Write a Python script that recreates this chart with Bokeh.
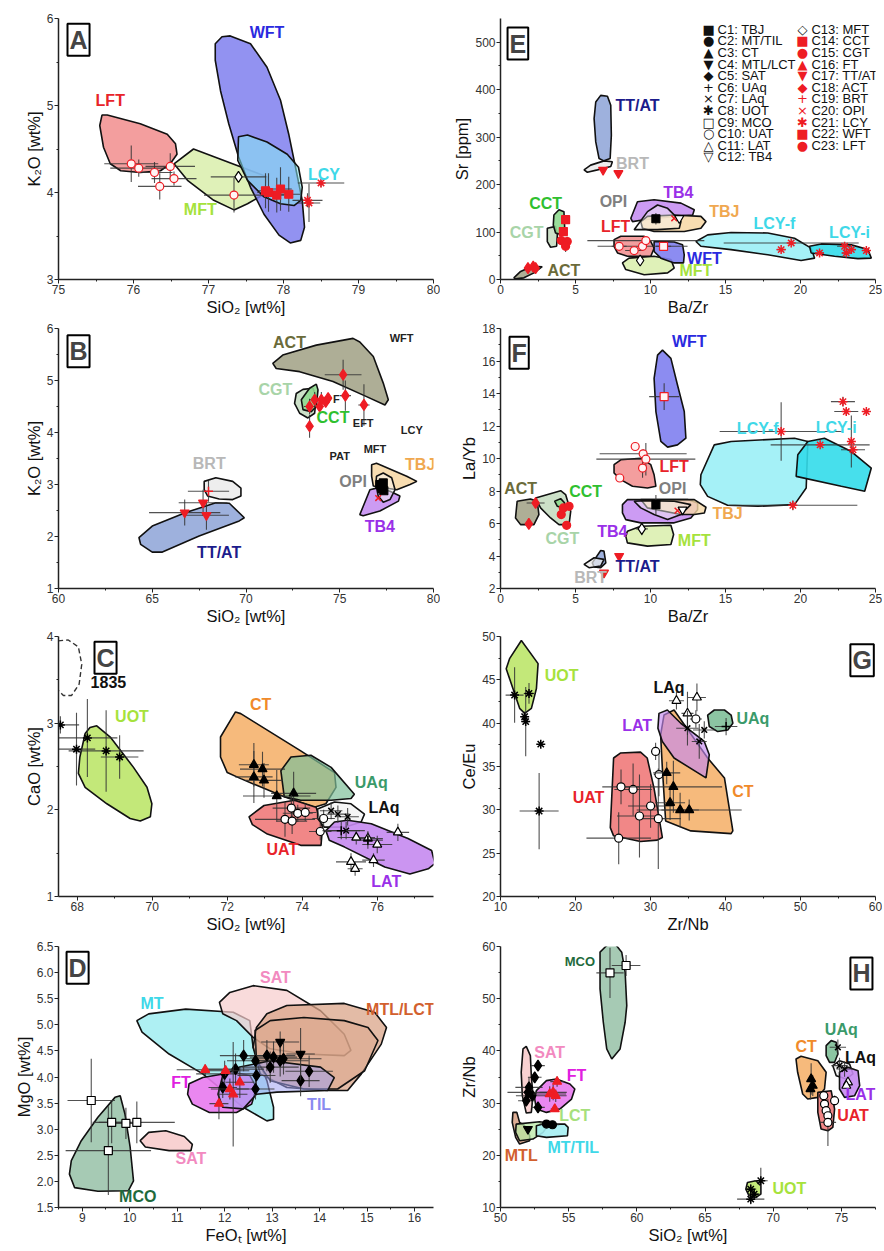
from bokeh.plotting import figure
from bokeh.models import FixedTicker, Label, PrintfTickFormatter
from bokeh.layouts import column, row
from bokeh.embed import file_html
from bokeh.resources import INLINE
from bokeh.core.properties import value

FONT = "Liberation Sans"
RED = "#ee1c24"

# ======================= DATA =======================
# ---- Panel A : K2O vs SiO2 ----
A_XTICKS = [75, 76, 77, 78, 79, 80]
A_XMINOR = [75.5, 76.5, 77.5, 78.5, 79.5]
A_YTICKS = [3, 4, 5, 6]
A_YMINOR = [3.5, 4.5, 5.5]
A_MFT_X = [76.54, 76.80, 77.78, 77.74, 77.52, 77.34, 77.07, 76.72]
A_MFT_Y = [4.33, 4.50, 4.18, 3.98, 3.87, 3.80, 3.91, 4.14]
A_LFT_X = [75.58, 75.65, 76.09, 76.45, 76.56, 76.58, 76.49, 76.36, 76.09, 75.83, 75.69, 75.60, 75.55]
A_LFT_Y = [4.89, 4.89, 4.79, 4.67, 4.56, 4.44, 4.33, 4.25, 4.23, 4.25, 4.33, 4.52, 4.77]
A_WFT_X = [77.29, 77.56, 77.78, 77.96, 78.07, 78.16, 78.25, 78.28, 78.23, 78.09, 77.94, 77.74, 77.56, 77.40, 77.27, 77.16, 77.09, 77.09, 77.18]
A_WFT_Y = [5.80, 5.71, 5.44, 5.06, 4.67, 4.29, 3.91, 3.60, 3.45, 3.42, 3.51, 3.75, 4.06, 4.41, 4.79, 5.17, 5.52, 5.71, 5.79]
A_LCY_X = [77.40, 77.52, 77.78, 78.05, 78.20, 78.25, 78.23, 78.14, 77.96, 77.74, 77.52, 77.39]
A_LCY_Y = [4.64, 4.66, 4.58, 4.44, 4.29, 4.06, 3.91, 3.85, 3.87, 3.95, 4.14, 4.37]
A_P_LFT_X = [75.97, 76.07, 76.28, 76.35, 76.49, 76.54, 77.34]
A_P_LFT_Y = [4.33, 4.28, 4.23, 4.07, 4.30, 4.16, 3.97]
A_P_LFT_EX = [0.36, 0.38, 0.24, 0.29, 0.33, 0.3, 0.4]
A_P_LFT_EY = [0.21, 0.1, 0.12, 0.15, 0.15, 0.08, 0.2]
A_P_MFT_X = [77.40]
A_P_MFT_Y = [4.18]
A_P_MFT_EX = [0.37]
A_P_MFT_EY = [0.05]
A_P_WFT_X = [77.76, 77.80, 77.96, 77.91, 78.07]
A_P_WFT_Y = [4.02, 4.00, 4.04, 3.97, 3.98]
A_P_WFT_EX = [0.1, 0.15, 0.15, 0.1, 0.15]
A_P_WFT_EY = [0.2, 0.22, 0.25, 0.2, 0.2]
A_P_LCY_X = [78.32, 78.34, 78.50]
A_P_LCY_Y = [3.91, 3.88, 4.11]
A_P_LCY_EX = [0.2, 0.15, 0.31]
A_P_LCY_EY = [0.08, 0.22, 0.05]
A_LAB = ["WFT", "LFT", "MFT", "LCY"]
A_LAB_X = [77.78, 75.69, 76.89, 78.54]
A_LAB_Y = [5.84, 5.06, 3.81, 4.21]

# ---- Panel E : Sr vs Ba/Zr ----
E_XTICKS = [0, 5, 10, 15, 20, 25]
E_XMINOR = [2.5, 7.5, 12.5, 17.5, 22.5]
E_YTICKS = [0, 100, 200, 300, 400, 500]
E_YMINOR = [50, 150, 250, 350, 450]
E_ACT_X = [0.89, 1.34, 2.12, 2.78, 2.23, 1.56, 1.0]
E_ACT_Y = [3.5, 17, 28, 27, 14, 3.5, 1.4]
E_CGT_X = [3.12, 3.67, 3.79, 3.74, 3.34, 3.12]
E_CGT_Y = [108, 112, 94, 70, 68, 80]
E_CCT_X = [3.56, 3.90, 4.23, 4.28, 4.12, 3.67, 3.52]
E_CCT_Y = [136, 147, 143, 108, 94, 98, 115]
E_TTAT_X = [6.35, 6.68, 7.13, 7.35, 7.39, 7.31, 6.90, 6.57, 6.35, 6.24]
E_TTAT_Y = [374, 388, 386, 367, 304, 255, 250, 255, 290, 339]
E_BRT_X = [5.57, 6.01, 6.90, 7.46, 7.35, 6.46, 5.79]
E_BRT_Y = [231, 241, 250, 248, 238, 231, 226]
E_TB4_X = [8.69, 9.13, 10.24, 12.03, 12.92, 12.81, 11.58, 9.58, 8.80]
E_TB4_Y = [129, 164, 168, 161, 147, 136, 133, 126, 122]
E_TBJ_X = [9.35, 9.80, 11.58, 13.36, 13.70, 13.36, 12.25, 10.24, 9.47]
E_TBJ_Y = [122, 133, 136, 133, 122, 108, 101, 101, 108]
E_OPI_X = [8.91, 9.80, 10.47, 11.14, 12.03, 11.92, 10.47]
E_OPI_Y = [105, 143, 157, 150, 122, 108, 105]
E_MFT_X = [8.13, 8.57, 10.24, 11.36, 11.58, 11.14, 9.58, 8.35]
E_MFT_Y = [35, 45, 49, 42, 24, 14, 10, 21]
E_LFT_X = [7.57, 8.02, 9.58, 10.02, 10.24, 10.02, 8.46, 7.80, 7.57]
E_LFT_Y = [84, 91, 91, 80, 66, 49, 49, 56, 70]
E_WFT_X = [10.24, 11.58, 12.14, 12.25, 12.20, 11.58, 10.69, 10.24]
E_WFT_Y = [80, 79, 73, 52, 35, 35, 45, 59]
E_LCYF_X = [13.03, 13.81, 15.37, 17.82, 19.60, 20.71, 20.94, 20.04, 17.82, 15.37, 13.36]
E_LCYF_Y = [80, 94, 99, 98, 87, 66, 45, 40, 52, 63, 70]
E_LCYI_X = [20.60, 21.38, 23.39, 24.50, 24.72, 23.83, 22.27, 20.71]
E_LCYI_Y = [70, 75, 73, 63, 45, 44, 49, 56]
E_P_TTAT_X = [6.84, 7.86]
E_P_TTAT_Y = [231, 224]
E_P_CCT_X = [4.34, 4.19]
E_P_CCT_Y = [126, 101]
E_P_CGT_X = [4.05, 4.30, 4.45, 4.34]
E_P_CGT_Y = [82, 78, 80, 70]
E_P_CGT_EY = [8, 8, 10, 12]
E_P_ACT_X = [1.83, 2.18, 2.34]
E_P_ACT_Y = [24, 27, 24]
E_P_TBJ_X = [10.36]
E_P_TBJ_Y = [128]
E_P_TBJ_EY = [12]
E_P_OPI_X = [11.58]
E_P_OPI_Y = [129]
E_P_TB4_X = [11.92]
E_P_TB4_Y = [129]
E_P_MFT_X = [9.31]
E_P_MFT_Y = [40]
E_P_LFT_X = [7.91, 8.91, 9.47, 9.69]
E_P_LFT_Y = [70, 61, 70, 82]
E_P_LFT_EX = [0.5, 0.6, 3.0, 3.9]
E_P_WFT_X = [10.87]
E_P_WFT_Y = [70]
E_P_WFT_EX = [0.5]
E_P_LCY_X = [18.71, 19.38, 21.27, 22.94, 23.05, 23.39, 24.39]
E_P_LCY_Y = [63, 77, 56, 70, 56, 63, 61]
E_P_LCY_EX = [0.3, 4.5, 0.3, 0.5, 0.3, 0.3, 0.3]
E_LAB = ["TT/AT", "BRT", "CCT", "CGT", "ACT", "OPI", "TB4", "TBJ", "LFT", "WFT", "MFT", "LCY-f", "LCY-i"]
E_LAB_X = [9.13, 8.80, 3.01, 1.74, 4.23, 7.53, 11.85, 14.92, 7.68, 13.59, 13.03, 18.26, 23.27]
E_LAB_Y = [367, 245, 161, 100, 19, 164, 184, 143, 112, 45, 19, 119, 98]
LEGEND_LABELS = ["C1: TBJ", "C2: MT/TIL", "C3: CT", "C4: MTL/LCT", "C5: SAT", "C6: UAq",
                 "C7: LAq", "C8: UOT", "C9: MCO", "C10: UAT", "C11: LAT", "C12: TB4",
                 "C13: MFT", "C14: CCT", "C15: CGT", "C16: FT", "C17: TT/AT", "C18: ACT",
                 "C19: BRT", "C20: OPI", "C21: LCY", "C22: WFT", "C23: LFT"]

# ---- Panel B : K2O vs SiO2 ----
B_XTICKS = [60, 65, 70, 75, 80]
B_XMINOR = [62.5, 67.5, 72.5, 77.5]
B_YTICKS = [1, 2, 3, 4, 5, 6]
B_YMINOR = [1.5, 2.5, 3.5, 4.5, 5.5]
B_ACT_X = [71.43, 71.96, 73.75, 75.71, 76.07, 76.79, 77.32, 77.59, 77.41, 76.43, 74.64, 72.86, 71.61]
B_ACT_Y = [5.33, 5.49, 5.68, 5.81, 5.74, 5.46, 4.95, 4.63, 4.53, 4.69, 4.98, 5.17, 5.23]
B_CGT_X = [72.68, 73.04, 73.57, 73.75, 73.66, 73.30, 72.86, 72.59]
B_CGT_Y = [4.75, 4.83, 4.85, 4.69, 4.37, 4.28, 4.37, 4.56]
B_CCT_X = [72.95, 73.39, 73.75, 73.84, 73.75, 73.48, 73.04]
B_CCT_Y = [4.63, 4.85, 4.93, 4.82, 4.50, 4.40, 4.44]
B_BRT_X = [67.77, 68.39, 69.29, 69.73, 69.73, 69.29, 68.57, 67.95, 67.77]
B_BRT_Y = [3.06, 3.13, 3.06, 2.93, 2.78, 2.71, 2.72, 2.78, 2.90]
B_TTAT_X = [64.29, 65.00, 66.79, 68.39, 69.11, 69.91, 69.64, 67.50, 65.54, 65.00, 64.38]
B_TTAT_Y = [1.98, 2.20, 2.46, 2.65, 2.64, 2.36, 2.30, 2.01, 1.70, 1.70, 1.85]
B_TBJ_X = [76.70, 76.96, 78.57, 79.11, 78.75, 78.04, 76.79, 76.70]
B_TBJ_Y = [3.38, 3.41, 3.16, 3.06, 3.00, 2.90, 2.97, 3.16]
B_TB4_X = [76.07, 76.61, 76.96, 77.68, 78.21, 78.13, 77.14, 76.25]
B_TB4_Y = [2.42, 2.90, 2.93, 2.87, 2.78, 2.68, 2.49, 2.40]
B_OPI_X = [76.96, 77.32, 77.77, 77.95, 77.68, 77.32, 77.05, 76.93]
B_OPI_Y = [3.16, 3.22, 3.13, 2.90, 2.71, 2.66, 2.78, 3.00]
B_P_ACT_X = [75.18, 75.30, 76.29, 73.39, 73.39, 73.66, 74.02, 74.25, 74.38, 73.93]
B_P_ACT_Y = [5.11, 4.71, 4.53, 4.12, 4.50, 4.63, 4.63, 4.59, 4.66, 4.50]
B_P_ACT_EX = [0.98, 0.3, 0.3, 0.2, 0.3, 0.3, 0.3, 0.2, 0.2, 0.2]
B_P_ACT_EY = [0.29, 0.29, 0.4, 0.22, 0.15, 0.15, 0.15, 0.1, 0.1, 0.1]
B_P_TTAT_X = [66.73, 67.71, 67.89]
B_P_TTAT_Y = [2.46, 2.65, 2.41]
B_P_TTAT_EX = [1.9, 1.3, 1.2]
B_P_TTAT_EY = [0.25, 0.25, 0.28]
B_P_BRT_X = [68.0]
B_P_BRT_Y = [2.87]
B_P_BRT_EX = [1.1]
B_P_BRT_EY = [0.2]
B_P_TBJ_X = [77.14, 77.23, 77.32, 77.25, 77.35]
B_P_TBJ_Y = [3.0, 2.97, 3.03, 2.92, 2.88]
B_P_OPI_X = [77.05]
B_P_OPI_Y = [2.74]
B_LAB = ["ACT", "CGT", "CCT", "BRT", "TBJ", "OPI", "TB4", "TT/AT"]
B_LAB_X = [72.32, 71.57, 74.64, 68.04, 79.29, 75.71, 77.14, 68.57]
B_LAB_Y = [5.74, 4.82, 4.28, 3.41, 3.38, 3.06, 2.20, 1.69]
B_SMALL = ["WFT", "F", "EFT", "LCY", "MFT", "PAT"]
B_SMALL_X = [78.30, 74.82, 76.25, 78.84, 76.88, 75.00]
B_SMALL_Y = [5.81, 4.64, 4.19, 4.05, 3.68, 3.54]

# ---- Panel F : La/Yb vs Ba/Zr ----
F_XTICKS = [0, 5, 10, 15, 20, 25]
F_XMINOR = [2.5, 7.5, 12.5, 17.5, 22.5]
F_YTICKS = [2, 4, 6, 8, 10, 12, 14, 16, 18]
F_YMINOR = [3, 5, 7, 9, 11, 13, 15, 17]
F_WFT_X = [10.47, 10.80, 11.36, 11.80, 12.25, 12.36, 11.80, 11.14, 10.69, 10.36, 10.24]
F_WFT_Y = [16.36, 16.67, 16.16, 14.52, 12.89, 11.25, 10.84, 10.70, 11.05, 12.89, 14.93]
F_LFT_X = [7.57, 8.02, 9.35, 10.02, 10.24, 10.36, 9.80, 8.80, 8.02, 7.57]
F_LFT_Y = [9.62, 9.92, 10.02, 9.62, 9.00, 8.29, 8.18, 8.29, 8.70, 9.11]
F_TB4_X = [8.13, 8.46, 12.47, 13.14, 13.14, 12.69, 11.58, 9.35, 8.35, 8.13]
F_TB4_Y = [7.16, 7.47, 7.47, 7.26, 6.85, 6.34, 6.04, 6.04, 6.24, 6.65]
F_TBJ_X = [9.35, 12.92, 13.70, 13.59, 12.92, 12.03, 9.80]
F_TBJ_Y = [7.47, 7.47, 7.00, 6.65, 6.55, 6.55, 6.96]
F_OPI_X = [8.91, 9.80, 11.58, 12.69, 12.03, 11.14, 10.24, 9.35]
F_OPI_Y = [7.37, 7.41, 7.37, 7.16, 6.55, 6.24, 6.55, 6.96]
F_MFT_X = [8.46, 9.35, 11.36, 11.54, 11.36, 9.80, 8.46, 8.35]
F_MFT_Y = [5.53, 5.83, 5.89, 5.32, 4.71, 4.61, 4.81, 5.22]
F_ACT_X = [1.11, 2.00, 2.45, 2.56, 2.23, 1.34, 1.00]
F_ACT_Y = [7.37, 7.51, 7.37, 6.55, 5.93, 5.93, 6.34]
F_CGT_X = [2.34, 4.01, 4.34, 4.68, 4.57, 3.90, 3.34, 2.67]
F_CGT_Y = [7.57, 8.02, 7.78, 6.75, 5.93, 5.93, 6.34, 6.96]
F_CCT_X = [3.61, 4.01, 4.28, 4.19, 3.79]
F_CCT_Y = [7.37, 7.53, 7.26, 6.96, 7.06]
F_LCYF_X = [13.36, 14.25, 15.37, 19.60, 20.49, 20.38, 19.60, 17.15, 15.14, 13.81, 13.32]
F_LCYF_Y = [9.00, 10.84, 11.05, 11.25, 11.05, 8.18, 7.16, 7.06, 7.12, 7.67, 8.39]
F_LCYI_X = [19.82, 20.49, 21.60, 23.39, 24.72, 24.28, 22.72, 19.71]
F_LCYI_Y = [10.23, 11.05, 11.25, 10.43, 9.41, 7.98, 8.29, 8.90]
F_TTAT_X = [6.12, 6.68, 6.90, 7.02, 6.68, 6.24]
F_TTAT_Y = [3.58, 4.34, 4.30, 3.58, 3.28, 3.32]
F_BRT_X = [5.57, 6.24, 6.90, 6.68, 5.90]
F_BRT_Y = [3.48, 3.89, 3.79, 3.38, 3.28]
F_P_WFT_X = [10.91]
F_P_WFT_Y = [13.81]
F_P_WFT_EX = [1.0]
F_P_WFT_EY = [0.82]
F_P_LFT_X = [8.98, 9.51, 9.69, 9.47, 7.95]
F_P_LFT_Y = [10.74, 10.29, 9.96, 9.41, 8.80]
F_P_LFT_EX = [0.2, 2.9, 3.3, 0.3, 0.1]
F_P_LFT_EY = [0.2, 0.3, 1.0, 0.6, 0.1]
F_P_TBJ_X = [10.36]
F_P_TBJ_Y = [7.16]
F_P_TBJ_EY = [0.6]
F_P_OPI_X = [11.80]
F_P_OPI_Y = [6.79]
F_P_TB4_X = [12.14]
F_P_TB4_Y = [6.85]
F_P_MFT_X = [9.42]
F_P_MFT_Y = [5.67]
F_P_MFT_EX = [0.4]
F_P_MFT_EY = [0.4]
F_P_ACT_X = [1.89, 2.34]
F_P_ACT_Y = [5.98, 7.26]
F_P_ACT_EX = [0.05, 0.6]
F_P_CGT_X = [4.05, 4.19, 4.41, 4.57]
F_P_CGT_Y = [6.55, 6.96, 5.89, 7.06]
F_P_TTAT_X = [7.91, 6.90]
F_P_TTAT_Y = [3.99, 2.97]
F_P_LCY_X = [18.71, 19.49, 21.31, 22.83, 23.05, 24.39, 23.39, 23.50]
F_P_LCY_Y = [11.66, 7.12, 10.84, 13.50, 12.89, 12.89, 11.05, 10.54]
F_P_LCY_EX = [4.1, 4.3, 3.3, 0.8, 0.8, 0.3, 0.1, 0.8]
F_P_LCY_EY = [1.8, 0.3, 0.1, 0.3, 0.2, 0.1, 1.6, 0.2]
F_LAB = ["WFT", "LFT", "OPI", "ACT", "CCT", "CGT", "TB4", "TBJ", "MFT", "TT/AT", "BRT", "LCY-f", "LCY-i"]
F_LAB_X = [12.58, 11.58, 11.47, 1.34, 5.68, 4.12, 7.46, 15.14, 12.92, 9.13, 6.01, 17.15, 22.38]
F_LAB_Y = [17.18, 9.51, 8.18, 8.18, 7.98, 5.08, 5.53, 6.59, 4.95, 3.38, 2.66, 11.87, 11.91]

# ---- Panel C : CaO vs SiO2 ----
C_XTICKS = [68, 70, 72, 74, 76]
C_XMINOR = [69, 71, 73, 75, 77]
C_YTICKS = [1, 2, 3, 4]
C_YMINOR = [1.5, 2.5, 3.5]
C_1835_X = [67.49, 67.76, 68.03, 68.12, 68.05, 67.85, 67.63, 67.49]
C_1835_Y = [3.95, 3.96, 3.88, 3.68, 3.45, 3.32, 3.32, 3.38]
C_UOT_X = [68.34, 68.52, 68.88, 69.50, 69.86, 69.99, 69.95, 69.68, 69.41, 68.79, 68.21, 68.03, 68.07, 68.21]
C_UOT_Y = [2.95, 2.97, 2.84, 2.49, 2.26, 2.07, 1.92, 1.87, 1.90, 2.07, 2.26, 2.42, 2.61, 2.88]
C_CT_X = [71.82, 72.22, 72.36, 73.96, 74.86, 74.90, 74.63, 74.32, 73.52, 72.36, 72.00, 71.82]
C_CT_Y = [2.84, 3.13, 3.11, 2.68, 2.43, 2.26, 2.07, 2.03, 2.15, 2.36, 2.43, 2.61]
C_UAQ_X = [73.43, 73.70, 74.23, 74.77, 75.39, 75.30, 74.77, 73.96, 73.52]
C_UAQ_Y = [2.45, 2.61, 2.63, 2.49, 2.18, 2.13, 2.11, 2.11, 2.15]
C_UAT_X = [72.58, 72.98, 73.79, 74.37, 74.54, 74.50, 73.96, 73.07, 72.67]
C_UAT_Y = [1.92, 2.05, 2.11, 2.03, 1.80, 1.59, 1.59, 1.72, 1.83]
C_LAQ_X = [74.41, 74.86, 75.30, 75.66, 75.57, 75.13, 74.59, 74.41]
C_LAQ_Y = [2.01, 2.09, 2.07, 1.95, 1.86, 1.80, 1.80, 1.90]
C_LAT_X = [74.63, 74.86, 75.21, 75.84, 76.82, 77.45, 77.54, 77.36, 76.87, 76.20, 75.13, 74.72]
C_LAT_Y = [1.76, 1.86, 1.88, 1.84, 1.67, 1.53, 1.38, 1.32, 1.26, 1.34, 1.57, 1.65]
C_P_UOT_X = [67.55, 67.98, 68.27, 68.77, 69.13]
C_P_UOT_Y = [2.98, 2.70, 2.83, 2.68, 2.61]
C_P_UOT_EX = [0.5, 0.5, 0.8, 1.0, 0.5]
C_P_UOT_EY = [0.1, 0.42, 0.45, 0.47, 0.25]
C_P_CT_X = [72.71, 72.94, 72.71, 72.98, 73.32, 73.77]
C_P_CT_Y = [2.52, 2.47, 2.38, 2.34, 2.16, 2.19]
C_P_CT_EX = [0.4, 0.6, 0.5, 0.5, 0.9, 0.6]
C_P_CT_EY = [0.25, 0.2, 0.3, 0.2, 0.3, 0.25]
C_P_UAT_X = [73.71, 73.88, 74.08, 73.54, 73.73, 74.57, 74.48]
C_P_UAT_Y = [2.02, 1.96, 1.97, 1.89, 1.87, 1.90, 1.75]
C_P_UAT_EX = [0.5, 0.4, 0.3, 0.8, 0.4, 0.3, 0.3]
C_P_UAT_EY = [0.15, 0.1, 0.1, 0.2, 0.15, 0.1, 0.1]
C_P_LAQ_X = [74.77, 74.95, 75.17, 75.21]
C_P_LAQ_Y = [1.99, 1.95, 1.76, 1.92]
C_P_LAQ_EX = [0.3, 0.3, 0.5, 0.3]
C_P_LAQ_EY = [0.1, 0.1, 0.1, 0.1]
C_P_LAT_X = [75.44, 75.75, 76.00, 76.55, 75.90, 75.30, 75.41]
C_P_LAT_Y = [1.68, 1.67, 1.60, 1.74, 1.42, 1.40, 1.32]
C_P_LAT_EX = [0.5, 0.4, 0.4, 0.3, 0.3, 0.4, 0.2]
C_P_LAT_EY = [0.08, 0.08, 0.1, 0.1, 0.08, 0.1, 0.08]
C_P_UAQ_X = [75.04, 75.75]
C_P_UAQ_Y = [1.76, 1.65]
C_P_UAQ_EX = [0.5, 0.4]
C_P_UAQ_EY = [0.1, 0.1]
C_LAB = ["1835", "UOT", "CT", "UAq", "LAq", "UAT", "LAT"]
C_LAB_X = [68.83, 69.46, 72.89, 75.84, 76.18, 73.47, 76.24]
C_LAB_Y = [3.47, 3.08, 3.22, 2.32, 2.03, 1.54, 1.17]

# ---- Panel G : Ce/Eu vs Zr/Nb ----
G_XTICKS = [10, 20, 30, 40, 50, 60]
G_XMINOR = [15, 25, 35, 45, 55]
G_YTICKS = [20, 25, 30, 35, 40, 45, 50]
G_YMINOR = [22.5, 27.5, 32.5, 37.5, 42.5, 47.5]
G_UOT_X = [12.78, 15.01, 14.79, 14.12, 13.22, 12.55, 10.76, 11.21]
G_UOT_Y = [49.54, 46.87, 44.00, 41.71, 41.13, 41.71, 46.29, 47.44]
G_UAT_X = [25.08, 25.98, 28.67, 29.56, 30.46, 31.58, 30.90, 28.67, 25.08, 24.64]
G_UAT_Y = [35.98, 36.55, 36.66, 35.98, 32.54, 26.81, 26.50, 26.35, 27.00, 27.95]
G_CT_X = [31.80, 33.14, 37.62, 39.86, 40.98, 40.75, 35.38, 32.02, 31.58, 31.35]
G_CT_Y = [40.94, 41.52, 35.98, 33.68, 27.57, 27.26, 27.57, 28.72, 34.83, 38.65]
G_LAT_X = [31.13, 32.25, 34.04, 37.17, 37.84, 37.40, 33.14, 31.58, 30.99]
G_LAT_Y = [41.13, 41.52, 39.99, 37.89, 36.36, 33.68, 35.98, 37.89, 39.42]
G_UAQ_X = [37.62, 38.51, 39.86, 40.75, 40.98, 40.30, 38.96, 37.84]
G_UAQ_Y = [40.94, 41.52, 41.52, 40.94, 39.99, 39.22, 39.03, 39.61]
G_P_UOT_X = [11.88, 13.80, 13.22, 13.36, 15.37, 15.15]
G_P_UOT_Y = [43.24, 43.43, 40.75, 40.18, 37.58, 29.86]
G_P_UOT_EX = [1.2, 0.7, 0.5, 0.5, 0.2, 2.6]
G_P_UOT_EY = [3.2, 1.2, 0.6, 4.0, 0.2, 4.4]
G_P_UAT_X = [26.07, 27.68, 30.01, 28.53, 31.04, 25.76, 30.68, 31.13, 36.05]
G_P_UAT_Y = [32.65, 32.35, 30.44, 29.29, 28.98, 26.73, 36.74, 34.07, 40.48]
G_P_UAT_EX = [2.5, 2.5, 3.0, 3.0, 3.0, 4.3, 0.5, 0.7, 0.8]
G_P_UAT_EY = [2.0, 3.0, 2.5, 4.8, 5.8, 3.0, 1.0, 2.5, 1.0]
G_P_CT_X = [32.16, 33.05, 32.61, 33.95, 35.16]
G_P_CT_Y = [34.26, 32.65, 30.82, 29.98, 29.98]
G_P_CT_EX = [1.8, 6.5, 2.0, 2.5, 7.0]
G_P_CT_EY = [1.3, 3.0, 2.0, 2.0, 1.2]
G_P_LAT_X = [33.46, 36.19, 34.93]
G_P_LAT_Y = [42.59, 42.97, 41.13]
G_P_LAT_EX = [1.0, 1.2, 0.8]
G_P_LAT_EY = [1.0, 1.6, 2.5]
G_P_LAQ_X = [34.93, 36.50, 37.17]
G_P_LAQ_Y = [39.42, 37.89, 39.22]
G_P_LAQ_EX = [1.5, 1.0, 1.5]
G_P_LAQ_EY = [2.0, 2.0, 1.0]
G_P_UAQ_X = [40.08]
G_P_UAQ_Y = [39.61]
G_P_UAQ_EX = [1.5]
G_P_UAQ_EY = [1.0]
G_LAB = ["UOT", "LAq", "UAq", "LAT", "CT", "UAT"]
G_LAB_X = [18.15, 32.47, 43.66, 28.22, 42.32, 21.73]
G_LAB_Y = [45.53, 44.08, 40.56, 39.72, 32.15, 31.39]

# ---- Panel D : MgO vs FeOt ----
D_XTICKS = [9, 10, 11, 12, 13, 14, 15, 16]
D_XMINOR = [8.5, 9.5, 10.5, 11.5, 12.5, 13.5, 14.5, 15.5]
D_YTICKS = [1.5, 2.0, 2.5, 3.0, 3.5, 4.0, 4.5, 5.0, 5.5, 6.0, 6.5]
D_YMINOR = [1.75, 2.25, 2.75, 3.25, 3.75, 4.25, 4.75, 5.25, 5.75, 6.25]
D_MCO_X = [8.77, 8.98, 9.33, 9.69, 9.80, 9.90, 10.01, 10.08, 9.97, 9.33, 8.84, 8.73]
D_MCO_Y = [2.40, 2.78, 3.23, 3.61, 3.64, 3.29, 2.65, 2.01, 1.82, 1.81, 1.88, 2.14]
D_SAT2_X = [10.22, 10.40, 10.76, 11.15, 11.32, 11.29, 10.83, 10.33]
D_SAT2_Y = [2.78, 2.94, 2.97, 2.86, 2.71, 2.59, 2.59, 2.66]
D_MT_X = [10.15, 10.40, 11.18, 12.18, 12.53, 12.60, 12.89, 13.03, 13.03, 12.89, 12.39, 11.54, 10.83, 10.26]
D_MT_Y = [5.08, 5.21, 5.30, 5.24, 5.08, 4.57, 3.93, 3.42, 3.19, 3.16, 3.42, 4.06, 4.44, 4.86]
D_SAT_X = [11.89, 12.11, 12.60, 13.31, 14.02, 14.52, 14.66, 14.52, 13.67, 12.96, 12.60, 12.25, 11.96]
D_SAT_Y = [5.43, 5.62, 5.75, 5.66, 5.27, 4.82, 4.51, 4.41, 4.44, 4.54, 4.76, 5.08, 5.21]
D_MTL_X = [12.67, 12.89, 13.31, 14.52, 15.16, 15.41, 15.30, 14.88, 14.59, 14.17, 13.31, 12.75, 12.60]
D_MTL_Y = [4.95, 5.21, 5.37, 5.41, 5.24, 4.95, 4.63, 4.06, 3.74, 3.74, 3.80, 4.06, 4.57]
D_LCT_X = [12.64, 12.96, 13.67, 14.52, 15.02, 15.23, 14.95, 14.38, 13.67, 12.96, 12.67]
D_LCT_Y = [4.89, 5.08, 5.14, 5.08, 4.95, 4.70, 4.12, 3.77, 3.77, 3.93, 4.31]
D_FT_X = [11.25, 11.54, 12.18, 12.53, 12.67, 12.57, 12.25, 11.68, 11.32, 11.22]
D_FT_Y = [3.87, 3.99, 4.09, 4.03, 3.80, 3.48, 3.32, 3.32, 3.48, 3.67]
D_TIL_X = [11.96, 12.32, 12.96, 14.02, 14.31, 14.17, 13.10, 12.67, 12.39, 11.96, 11.86]
D_TIL_Y = [4.03, 4.19, 4.31, 4.19, 3.99, 3.74, 3.71, 3.67, 3.39, 3.42, 3.67]
D_P_MCO_X = [9.19, 9.62, 9.92, 10.15, 9.55]
D_P_MCO_Y = [3.55, 3.13, 3.11, 3.13, 2.59]
D_P_MCO_EX = [0.5, 0.4, 0.3, 0.8, 0.9]
D_P_MCO_EY = [0.8, 0.4, 0.3, 0.4, 0.85]
D_P_SAT_X = [12.40, 12.23, 12.00, 11.96, 12.65, 12.67, 12.65, 12.89, 12.96, 13.03, 13.17, 13.24, 13.60, 13.78]
D_P_SAT_Y = [4.41, 4.15, 4.06, 3.80, 4.31, 4.03, 3.77, 4.41, 4.19, 4.38, 4.31, 4.35, 3.93, 4.11]
D_P_SAT_EX = [0.5, 0.6, 0.6, 0.3, 0.6, 0.4, 0.4, 0.6, 0.6, 0.5, 0.6, 0.8, 0.4, 0.5]
D_P_SAT_EY = [0.3, 0.3, 0.25, 0.2, 0.4, 0.3, 0.2, 0.3, 0.3, 0.3, 0.3, 0.3, 0.3, 0.3]
D_P_MTL_X = [13.17, 13.60]
D_P_MTL_Y = [4.67, 4.44]
D_P_MTL_EX = [0.4, 0.3]
D_P_MTL_EY = [0.2, 0.5]
D_P_FT_X = [11.59, 12.02, 12.32, 11.88, 12.11, 12.18]
D_P_FT_Y = [4.14, 4.12, 3.90, 3.49, 3.77, 3.67]
D_P_FT_EX = [0.6, 0.5, 0.3, 0.2, 0.4, 0.3]
D_P_FT_EY = [0.1, 0.1, 0.3, 0.3, 0.2, 1.0]
D_LAB = ["SAT", "MT", "MTL/LCT", "FT", "TIL", "SAT", "MCO"]
D_LAB_X = [13.07, 10.47, 15.70, 11.08, 13.99, 11.29, 10.17]
D_LAB_Y = [5.91, 5.40, 5.30, 3.90, 3.48, 2.43, 1.72]

# ---- Panel H : Zr/Nb vs SiO2 ----
H_XTICKS = [50, 55, 60, 65, 70, 75]
H_XMINOR = [52.5, 57.5, 62.5, 67.5, 72.5, 77.5]
H_YTICKS = [10, 20, 30, 40, 50, 60]
H_YMINOR = [15, 25, 35, 45, 55]
H_MCO_X = [57.30, 57.79, 58.40, 58.89, 59.14, 59.26, 59.14, 58.77, 58.16, 57.79, 57.54, 57.30]
H_MCO_Y = [58.91, 60.19, 60.51, 58.91, 55.08, 48.68, 45.49, 40.37, 38.45, 40.37, 45.49, 51.88]
H_SAT_X = [51.65, 51.89, 52.19, 52.26, 52.38, 52.26, 51.89, 51.60, 51.52]
H_SAT_Y = [40.37, 40.88, 39.09, 35.26, 31.42, 28.22, 28.09, 31.42, 35.90]
H_FT_X = [52.63, 53.37, 54.10, 55.09, 55.45, 55.21, 54.35, 53.37, 52.63, 52.51]
H_FT_Y = [32.38, 34.30, 34.62, 33.66, 32.70, 30.78, 28.86, 28.22, 28.86, 30.78]
H_MTL_X = [50.91, 51.20, 51.40, 51.77, 52.14, 52.14, 51.40, 51.11, 50.86]
H_MTL_Y = [28.22, 28.22, 26.30, 25.66, 23.75, 22.79, 22.15, 23.43, 26.30]
H_LCT_X = [51.15, 52.87, 53.61, 53.12, 52.38, 51.40, 51.11]
H_LCT_Y = [25.98, 26.43, 26.18, 24.39, 23.11, 22.79, 24.39]
H_MTT_X = [52.63, 53.12, 54.72, 54.96, 54.91, 53.37, 52.63]
H_MTT_Y = [25.66, 25.98, 25.98, 25.34, 23.75, 23.43, 23.75]
H_UOT_X = [68.11, 68.72, 69.09, 69.09, 68.72, 68.23, 67.99]
H_UOT_Y = [14.80, 15.12, 14.16, 12.56, 11.92, 12.24, 13.52]
H_CT_X = [71.67, 72.04, 73.27, 73.88, 73.76, 73.27, 72.53, 72.16, 71.79]
H_CT_Y = [38.45, 38.96, 38.13, 35.90, 32.70, 31.10, 30.78, 31.74, 35.90]
H_UAQ_X = [73.88, 74.25, 74.62, 74.74, 74.50, 74.13, 73.88]
H_UAQ_Y = [41.01, 41.97, 41.65, 39.41, 37.81, 37.81, 39.09]
H_LAQ_X = [74.37, 74.86, 75.60, 75.85, 75.36, 74.62]
H_LAQ_Y = [37.17, 38.13, 37.49, 35.58, 34.62, 35.26]
H_LAT_X = [74.86, 75.48, 76.22, 76.34, 75.97, 75.23, 74.86]
H_LAT_Y = [35.90, 36.85, 36.21, 33.34, 31.42, 31.10, 32.70]
H_UAT_X = [73.27, 74.25, 74.50, 74.37, 74.01, 73.51, 73.27]
H_UAT_Y = [32.06, 32.38, 28.86, 25.34, 24.71, 25.02, 28.22]
H_P_MCO_X = [58.03, 59.21]
H_P_MCO_Y = [54.95, 56.36]
H_P_MCO_EX = [1.0, 1.05]
H_P_MCO_EY = [4.8, 2.0]
H_P_SAT_X = [52.75, 52.51, 52.09, 52.01, 52.33, 52.75, 51.89]
H_P_SAT_Y = [37.17, 34.94, 33.02, 32.06, 31.42, 29.18, 30.46]
H_P_SAT_EX = [0.5, 0.5, 1.0, 1.5, 1.2, 0.5, 0.6]
H_P_SAT_EY = [1.0, 1.0, 2.0, 1.5, 1.5, 1.0, 1.0]
H_P_FT_X = [54.15, 53.86, 54.05, 53.61, 53.98]
H_P_FT_Y = [34.11, 32.06, 31.42, 31.74, 28.86]
H_P_FT_EX = [0.5, 1.0, 0.8, 1.2, 0.3]
H_P_FT_EY = [1.0, 1.5, 1.2, 1.5, 0.5]
H_P_MTL_X = [52.01]
H_P_MTL_Y = [25.02]
H_P_MTT_X = [53.37, 53.81]
H_P_MTT_Y = [25.98, 25.85]
H_P_MTT_EX = [0.5, 0.5]
H_P_UOT_X = [68.35, 69.09, 68.60, 68.35]
H_P_UOT_Y = [13.52, 15.12, 12.56, 11.60]
H_P_UOT_EX = [0.4, 0.5, 0.4, 1.0]
H_P_UOT_EY = [1.0, 2.5, 1.0, 1.0]
H_P_CT_X = [72.78, 72.90, 72.73]
H_P_CT_Y = [34.62, 33.34, 32.70]
H_P_CT_EY = [3.0, 2.0, 2.0]
H_P_UAT_X = [73.71, 73.76, 73.88, 74.01, 74.01, 74.50]
H_P_UAT_Y = [31.42, 29.82, 28.54, 27.58, 26.30, 30.46]
H_P_UAT_EX = [0.3, 0.3, 0.3, 0.3, 0.6, 0.3]
H_P_UAT_EY = [1.0, 1.0, 1.0, 1.0, 4.5, 1.0]
H_P_LAQ_X = [74.74, 74.86, 75.23]
H_P_LAQ_Y = [40.69, 37.17, 36.53]
H_P_LAQ_EX = [0.6, 0.6, 0.6]
H_P_LAQ_EY = [1.5, 1.5, 1.5]
H_P_LAT_X = [75.48, 75.36]
H_P_LAT_Y = [34.0, 33.34]
H_LAB = ["SAT", "FT", "LCT", "MTL", "MT/TIL", "UOT", "UAq", "CT", "LAq", "LAT", "UAT"]
H_LAB_X = [53.61, 55.58, 55.45, 51.52, 55.33, 71.18, 74.99, 72.41, 76.40, 76.40, 75.85]
H_LAB_Y = [39.60, 35.38, 27.71, 20.04, 21.51, 13.64, 44.08, 40.88, 38.77, 31.60, 27.71]
H_MCO_LAB_X = [55.82]
H_MCO_LAB_Y = [57.12]

# ======================= STYLES =======================
FILL = {
    "WFT": "#7f7fef", "LCY": "#86e9f3", "LCY-f": "#9befF6", "LCY-i": "#33dbea",
    "LFT": "#f29494", "MFT": "#dcf0b0", "ACT": "#a5a58b", "CGT": "#c7ddc2",
    "CCT": "#8fd98f", "BRT": "#ececec", "TT/AT": "#94a8d9", "TBJ": "#f7d9a8",
    "TB4": "#c690f2", "OPI": "#f7f7f7", "UOT": "#bde66a", "CT": "#f5b26e",
    "UAq": "#7fbf98", "UAT": "#f07a7a", "LAq": "#eeeeee", "LAT": "#c589f0",
    "SAT": "#f7cccc", "MT": "#a5eef2", "MTL": "#d9a488", "TIL": "#9ea3f0",
    "FT": "#e87aee", "MCO": "#9cc4ac", "LCT": "#b8e8a4", "MT/TIL": "#a5eef2",
}
TXT = {
    "WFT": "#2a2adf", "LFT": "#e8232a", "MFT": "#a5e23c", "LCY": "#3fd8e8",
    "LCY-f": "#3fd8e8", "LCY-i": "#3fd8e8", "ACT": "#6b6b3a", "CGT": "#a8d4a8",
    "CCT": "#2fc02f", "BRT": "#b8b8b8", "TT/AT": "#1c1c8c", "TBJ": "#f0a850",
    "TB4": "#9a30e8", "OPI": "#7f7f7f", "UOT": "#a6e23c", "CT": "#f08a2a",
    "UAq": "#3a9a6a", "LAq": "#111111", "UAT": "#e8232a", "LAT": "#9a30e8",
    "SAT": "#f28ac0", "MT": "#3fd8e8", "MTL/LCT": "#d2602e", "MTL": "#d2602e",
    "FT": "#e020e0", "TIL": "#8a8af0", "MCO": "#1e6a3c", "LCT": "#a6e07c",
    "MT/TIL": "#3fd8e8", "1835": "#111111",
}
BLACK = "black"
MK = {
    "C1": ("square", BLACK, BLACK, 8), "C2": ("circle", BLACK, BLACK, 8),
    "C3": ("triangle", BLACK, BLACK, 9), "C4": ("inverted_triangle", BLACK, BLACK, 9),
    "C5": ("diamond", BLACK, BLACK, 11), "C6": ("cross", None, BLACK, 9),
    "C7": ("x", None, BLACK, 8), "C8": ("asterisk", None, BLACK, 9),
    "C9": ("square", "white", BLACK, 8), "C10": ("circle", "white", BLACK, 8),
    "C11": ("triangle", "white", BLACK, 9), "C12": ("inverted_triangle", "white", BLACK, 9),
    "C13": ("diamond", "white", BLACK, 11), "C14": ("square", RED, RED, 8),
    "C15": ("circle", RED, RED, 8), "C16": ("triangle", RED, RED, 9),
    "C17": ("inverted_triangle", RED, RED, 9), "C18": ("diamond", RED, RED, 11),
    "C19": ("cross", None, RED, 9), "C20": ("x", None, RED, 8),
    "C21": ("asterisk", None, RED, 9), "C22": ("square", RED, RED, 8),
    "C23": ("circle", RED, RED, 8),
    "C22o": ("square", "#fff4f4", RED, 8), "C23o": ("circle", "#fff4f4", RED, 8),
}
# legend symbols (text glyphs) for the 23 classes
LEG_SYM = ["\u25a0", "\u25cf", "\u25b2", "\u25bc", "\u25c6", "+", "\u00d7", "\u2731",
           "\u25a1", "\u25cb", "\u25b3", "\u25bd", "\u25c7", "\u25a0", "\u25cf", "\u25b2",
           "\u25bc", "\u25c6", "+", "\u00d7", "\u2731", "\u25a0", "\u25cf"]


def make_fig(xr, yr, w, h, bl, br, bt, bb, xt, xm, yt, ym, xlab, ylab):
    p = figure(width=w, height=h, x_range=xr, y_range=yr, output_backend="svg",
               toolbar_location=None, min_border_left=bl, min_border_right=br,
               min_border_top=bt, min_border_bottom=bb)
    p.grid.visible = False
    p.outline_line_color = None
    p.background_fill_color = "white"
    p.xaxis.ticker = FixedTicker(ticks=xt, minor_ticks=xm)
    p.yaxis.ticker = FixedTicker(ticks=yt, minor_ticks=ym)
    p.xaxis.axis_label = xlab
    p.yaxis.axis_label = ylab
    for ax in (p.xaxis, p.yaxis):
        ax.axis_line_width = 1.5
        ax.axis_line_color = "#222222"
        ax.major_tick_line_color = "#222222"
        ax.minor_tick_line_color = "#222222"
        ax.major_tick_out = 4
        ax.major_tick_in = 0
        ax.minor_tick_out = 2
        ax.minor_tick_in = 0
        ax.major_label_text_font = FONT
        ax.major_label_text_font_size = "12px"
        ax.major_label_text_color = "#333333"
        ax.major_label_standoff = 1
        ax.axis_label_text_font = FONT
        ax.axis_label_text_font_size = "16.5px"
        ax.axis_label_text_font_style = "normal"
        ax.axis_label_text_color = "#111111"
        ax.axis_label_standoff = 1
    return p


def field(p, xs, ys, fill, alpha=0.9, dash="solid", lw=1.6):
    p.patch(xs, ys, fill_color=fill, fill_alpha=alpha, line_color="#111111",
            line_width=lw, line_dash=dash)


def pts(p, cls, xs, ys, ex=None, ey=None):
    if ex is not None:
        p.segment(x0=[x - e for x, e in zip(xs, ex)], y0=ys,
                  x1=[x + e for x, e in zip(xs, ex)], y1=ys,
                  line_color="#333333", line_width=1.1, line_alpha=0.85)
    if ey is not None:
        p.segment(x0=xs, y0=[y - e for y, e in zip(ys, ey)],
                  x1=xs, y1=[y + e for y, e in zip(ys, ey)],
                  line_color="#333333", line_width=1.1, line_alpha=0.85)
    m, fc, lc, s = MK[cls]
    p.scatter(xs, ys, marker=m, size=s, fill_color=fc, line_color=lc,
              line_width=1.5 if fc is None else 1.2)


def labels(p, names, xs, ys, size="16px", colors=None, style="bold"):
    cols = colors if colors is not None else [TXT.get(n, "#111111") for n in names]
    p.text(x=xs, y=ys, text=names, text_color=cols, text_font=value(FONT),
           text_font_size=size, text_font_style=style, text_align="center",
           text_baseline="middle")


def panel_box(p, letter, x, y):
    p.add_layout(Label(x=x, y=y, text=letter, text_font=FONT, text_font_size="25px",
                       text_font_style="bold", text_align="left", text_baseline="top",
                       border_line_color="black", border_line_width=2,
                       background_fill_color="white", padding=2))


# layout geometry (page has no margin offset)
LW, RW = 440, 442
LBL, LBR, RBL, RBR = 58, 7, 60, 7
ROWH = [319, 308, 309, 311]
TOPB = [18, 9, 9, 10]
BOTB = [40, 38, 40, 40]

SIO2 = "SiO\u2082 [wt%]"
K2O = "K\u2082O [wt%]"

# ---------- A ----------
pA = make_fig((75, 80), (3, 6), LW, ROWH[0], LBL, LBR, TOPB[0], BOTB[0],
              A_XTICKS, A_XMINOR, A_YTICKS, A_YMINOR, SIO2, K2O)
field(pA, A_MFT_X, A_MFT_Y, FILL["MFT"])
field(pA, A_LFT_X, A_LFT_Y, FILL["LFT"])
field(pA, A_WFT_X, A_WFT_Y, FILL["WFT"], 0.85)
field(pA, A_LCY_X, A_LCY_Y, FILL["LCY"], 0.55)
pts(pA, "C23o", A_P_LFT_X, A_P_LFT_Y, A_P_LFT_EX, A_P_LFT_EY)
pts(pA, "C13", A_P_MFT_X, A_P_MFT_Y, A_P_MFT_EX, A_P_MFT_EY)
pts(pA, "C22", A_P_WFT_X, A_P_WFT_Y, A_P_WFT_EX, A_P_WFT_EY)
pts(pA, "C21", A_P_LCY_X, A_P_LCY_Y, A_P_LCY_EX, A_P_LCY_EY)
labels(pA, A_LAB, A_LAB_X, A_LAB_Y)
panel_box(pA, "A", 75.12, 5.94)

# ---------- E ----------
pE = make_fig((0, 25), (0, 550), RW, ROWH[0], RBL, RBR, TOPB[0], BOTB[0],
              E_XTICKS, E_XMINOR, E_YTICKS, E_YMINOR, "Ba/Zr", "Sr [ppm]")
field(pE, E_ACT_X, E_ACT_Y, FILL["ACT"])
field(pE, E_CGT_X, E_CGT_Y, FILL["CGT"])
field(pE, E_CCT_X, E_CCT_Y, FILL["CCT"])
field(pE, E_TTAT_X, E_TTAT_Y, FILL["TT/AT"])
field(pE, E_BRT_X, E_BRT_Y, FILL["BRT"])
field(pE, E_TB4_X, E_TB4_Y, FILL["TB4"])
field(pE, E_TBJ_X, E_TBJ_Y, FILL["TBJ"])
field(pE, E_OPI_X, E_OPI_Y, FILL["OPI"], 0.45)
field(pE, E_MFT_X, E_MFT_Y, FILL["MFT"])
field(pE, E_LFT_X, E_LFT_Y, FILL["LFT"])
field(pE, E_WFT_X, E_WFT_Y, FILL["WFT"])
field(pE, E_LCYF_X, E_LCYF_Y, FILL["LCY-f"])
field(pE, E_LCYI_X, E_LCYI_Y, FILL["LCY-i"])
pts(pE, "C17", E_P_TTAT_X, E_P_TTAT_Y)
pts(pE, "C14", E_P_CCT_X, E_P_CCT_Y)
pts(pE, "C15", E_P_CGT_X, E_P_CGT_Y, None, E_P_CGT_EY)
pts(pE, "C18", E_P_ACT_X, E_P_ACT_Y)
pts(pE, "C1", E_P_TBJ_X, E_P_TBJ_Y, None, E_P_TBJ_EY)
pts(pE, "C20", E_P_OPI_X, E_P_OPI_Y)
pts(pE, "C12", E_P_TB4_X, E_P_TB4_Y)
pts(pE, "C13", E_P_MFT_X, E_P_MFT_Y)
pts(pE, "C23o", E_P_LFT_X, E_P_LFT_Y, E_P_LFT_EX, None)
pts(pE, "C22o", E_P_WFT_X, E_P_WFT_Y, E_P_WFT_EX, None)
pts(pE, "C21", E_P_LCY_X, E_P_LCY_Y, E_P_LCY_EX, None)
labels(pE, E_LAB, E_LAB_X, E_LAB_Y)
panel_box(pE, "E", 0.47, 531)

# legend of E, laid out as two columns of text (layout constants, not data)
LEG_COL_X = [13.87, 20.13]   # symbol column centres (Ba/Zr units)
LEG_TXT_DX = 0.6
LEG_Y0, LEG_DY, LEG_NROW = 527.0, 24.4, 12
leg_sx, leg_sy, leg_tx, leg_cols = [], [], [], []
for i in range(len(LEGEND_LABELS)):
    c, r = divmod(i, LEG_NROW)
    leg_sx.append(LEG_COL_X[c])
    leg_sy.append(LEG_Y0 - LEG_DY * r)
    leg_tx.append(LEG_COL_X[c] + LEG_TXT_DX)
    leg_cols.append("#111111" if i < 13 else RED)
pE.text(x=leg_sx, y=leg_sy, text=LEG_SYM, text_color=leg_cols,
        text_font=value("DejaVu Sans"), text_font_size="13px", text_align="center",
        text_baseline="middle")
pE.text(x=leg_tx, y=leg_sy, text=LEGEND_LABELS, text_color="#111111",
        text_font=value(FONT), text_font_size="13px", text_align="left",
        text_baseline="middle")

# ---------- B ----------
pB = make_fig((60, 80), (1, 6), LW, ROWH[1], LBL, LBR, TOPB[1], BOTB[1],
              B_XTICKS, B_XMINOR, B_YTICKS, B_YMINOR, SIO2, K2O)
field(pB, B_ACT_X, B_ACT_Y, FILL["ACT"])
field(pB, B_CGT_X, B_CGT_Y, FILL["CGT"])
field(pB, B_CCT_X, B_CCT_Y, FILL["CCT"])
field(pB, B_BRT_X, B_BRT_Y, FILL["BRT"])
field(pB, B_TTAT_X, B_TTAT_Y, FILL["TT/AT"])
field(pB, B_TBJ_X, B_TBJ_Y, FILL["TBJ"])
field(pB, B_TB4_X, B_TB4_Y, FILL["TB4"])
field(pB, B_OPI_X, B_OPI_Y, FILL["OPI"], 0.5)
pts(pB, "C18", B_P_ACT_X, B_P_ACT_Y, B_P_ACT_EX, B_P_ACT_EY)
pts(pB, "C17", B_P_TTAT_X, B_P_TTAT_Y, B_P_TTAT_EX, B_P_TTAT_EY)
pts(pB, "C19", B_P_BRT_X, B_P_BRT_Y, B_P_BRT_EX, B_P_BRT_EY)
pts(pB, "C1", B_P_TBJ_X, B_P_TBJ_Y)
pts(pB, "C20", B_P_OPI_X, B_P_OPI_Y)
labels(pB, B_LAB, B_LAB_X, B_LAB_Y)
labels(pB, B_SMALL, B_SMALL_X, B_SMALL_Y, size="11px",
       colors=["#222222"] * len(B_SMALL))
panel_box(pB, "B", 60.48, 5.87)

# ---------- F ----------
pF = make_fig((0, 25), (2, 18), RW, ROWH[1], RBL, RBR, TOPB[1], BOTB[1],
              F_XTICKS, F_XMINOR, F_YTICKS, F_YMINOR, "Ba/Zr", "La/Yb")
field(pF, F_WFT_X, F_WFT_Y, FILL["WFT"])
field(pF, F_LFT_X, F_LFT_Y, FILL["LFT"])
field(pF, F_TB4_X, F_TB4_Y, FILL["TB4"])
field(pF, F_TBJ_X, F_TBJ_Y, FILL["TBJ"], 0.8)
field(pF, F_OPI_X, F_OPI_Y, FILL["OPI"], 0.45)
field(pF, F_MFT_X, F_MFT_Y, FILL["MFT"])
field(pF, F_ACT_X, F_ACT_Y, FILL["ACT"])
field(pF, F_CGT_X, F_CGT_Y, FILL["CGT"])
field(pF, F_CCT_X, F_CCT_Y, FILL["CCT"])
field(pF, F_LCYF_X, F_LCYF_Y, FILL["LCY-f"])
field(pF, F_LCYI_X, F_LCYI_Y, FILL["LCY-i"])
field(pF, F_TTAT_X, F_TTAT_Y, FILL["TT/AT"])
field(pF, F_BRT_X, F_BRT_Y, FILL["BRT"], 0.7)
pts(pF, "C22o", F_P_WFT_X, F_P_WFT_Y, F_P_WFT_EX, F_P_WFT_EY)
pts(pF, "C23o", F_P_LFT_X, F_P_LFT_Y, F_P_LFT_EX, F_P_LFT_EY)
pts(pF, "C1", F_P_TBJ_X, F_P_TBJ_Y, None, F_P_TBJ_EY)
pts(pF, "C20", F_P_OPI_X, F_P_OPI_Y)
pts(pF, "C12", F_P_TB4_X, F_P_TB4_Y)
pts(pF, "C13", F_P_MFT_X, F_P_MFT_Y, F_P_MFT_EX, F_P_MFT_EY)
pts(pF, "C18", F_P_ACT_X, F_P_ACT_Y, F_P_ACT_EX, None)
pts(pF, "C15", F_P_CGT_X, F_P_CGT_Y)
pts(pF, "C17", F_P_TTAT_X, F_P_TTAT_Y)
pts(pF, "C21", F_P_LCY_X, F_P_LCY_Y, F_P_LCY_EX, F_P_LCY_EY)
labels(pF, F_LAB, F_LAB_X, F_LAB_Y)
panel_box(pF, "F", 0.6, 17.5)

# ---------- C ----------
pC = make_fig((67.5, 77.5), (1, 4), LW, ROWH[2], LBL, LBR, TOPB[2], BOTB[2],
              C_XTICKS, C_XMINOR, C_YTICKS, C_YMINOR, SIO2, "CaO [wt%]")
pC.patch(C_1835_X, C_1835_Y, fill_alpha=0, line_color="#333333", line_width=1.4,
         line_dash="5 3")
field(pC, C_UOT_X, C_UOT_Y, FILL["UOT"])
field(pC, C_CT_X, C_CT_Y, FILL["CT"])
field(pC, C_UAQ_X, C_UAQ_Y, FILL["UAq"], 0.7)
field(pC, C_UAT_X, C_UAT_Y, FILL["UAT"])
field(pC, C_LAQ_X, C_LAQ_Y, FILL["LAq"], 0.6)
field(pC, C_LAT_X, C_LAT_Y, FILL["LAT"])
pts(pC, "C8", C_P_UOT_X, C_P_UOT_Y, C_P_UOT_EX, C_P_UOT_EY)
pts(pC, "C3", C_P_CT_X, C_P_CT_Y, C_P_CT_EX, C_P_CT_EY)
pts(pC, "C10", C_P_UAT_X, C_P_UAT_Y, C_P_UAT_EX, C_P_UAT_EY)
pts(pC, "C7", C_P_LAQ_X, C_P_LAQ_Y, C_P_LAQ_EX, C_P_LAQ_EY)
pts(pC, "C11", C_P_LAT_X, C_P_LAT_Y, C_P_LAT_EX, C_P_LAT_EY)
pts(pC, "C6", C_P_UAQ_X, C_P_UAQ_Y, C_P_UAQ_EX, C_P_UAQ_EY)
labels(pC, C_LAB, C_LAB_X, C_LAB_Y)
panel_box(pC, "C", 68.46, 3.94)

# ---------- G ----------
pG = make_fig((10, 60), (20, 50), RW, ROWH[2], RBL, RBR, TOPB[2], BOTB[2],
              G_XTICKS, G_XMINOR, G_YTICKS, G_YMINOR, "Zr/Nb", "Ce/Eu")
field(pG, G_UOT_X, G_UOT_Y, FILL["UOT"])
field(pG, G_UAT_X, G_UAT_Y, FILL["UAT"])
field(pG, G_CT_X, G_CT_Y, FILL["CT"])
field(pG, G_LAT_X, G_LAT_Y, FILL["LAT"], 0.65)
field(pG, G_UAQ_X, G_UAQ_Y, FILL["UAq"])
pts(pG, "C8", G_P_UOT_X, G_P_UOT_Y, G_P_UOT_EX, G_P_UOT_EY)
pts(pG, "C10", G_P_UAT_X, G_P_UAT_Y, G_P_UAT_EX, G_P_UAT_EY)
pts(pG, "C3", G_P_CT_X, G_P_CT_Y, G_P_CT_EX, G_P_CT_EY)
pts(pG, "C11", G_P_LAT_X, G_P_LAT_Y, G_P_LAT_EX, G_P_LAT_EY)
pts(pG, "C7", G_P_LAQ_X, G_P_LAQ_Y, G_P_LAQ_EX, G_P_LAQ_EY)
pts(pG, "C6", G_P_UAQ_X, G_P_UAQ_Y, G_P_UAQ_EX, G_P_UAQ_EY)
labels(pG, G_LAB, G_LAB_X, G_LAB_Y)
panel_box(pG, "G", 56.65, 49.1)

# ---------- D ----------
pD = make_fig((8.5, 16.4), (1.5, 6.5), LW, ROWH[3], LBL, LBR, TOPB[3], BOTB[3],
              D_XTICKS, D_XMINOR, D_YTICKS, D_YMINOR, "FeO\u209c [wt%]", "MgO [wt%]")
pD.yaxis.minor_tick_out = 0
pD.yaxis.formatter = PrintfTickFormatter(format="%.1f")
field(pD, D_MCO_X, D_MCO_Y, FILL["MCO"])
field(pD, D_SAT2_X, D_SAT2_Y, FILL["SAT"])
field(pD, D_MT_X, D_MT_Y, FILL["MT"])
field(pD, D_SAT_X, D_SAT_Y, FILL["SAT"], 0.7)
field(pD, D_MTL_X, D_MTL_Y, FILL["MTL"], 0.75)
field(pD, D_LCT_X, D_LCT_Y, FILL["MTL"], 0.45)
field(pD, D_FT_X, D_FT_Y, FILL["FT"])
field(pD, D_TIL_X, D_TIL_Y, FILL["TIL"], 0.55)
pts(pD, "C9", D_P_MCO_X, D_P_MCO_Y, D_P_MCO_EX, D_P_MCO_EY)
pts(pD, "C5", D_P_SAT_X, D_P_SAT_Y, D_P_SAT_EX, D_P_SAT_EY)
pts(pD, "C4", D_P_MTL_X, D_P_MTL_Y, D_P_MTL_EX, D_P_MTL_EY)
pts(pD, "C16", D_P_FT_X, D_P_FT_Y, D_P_FT_EX, D_P_FT_EY)
labels(pD, D_LAB, D_LAB_X, D_LAB_Y)
panel_box(pD, "D", 8.67, 6.40)

# ---------- H ----------
pH = make_fig((50, 77.5), (10, 60), RW, ROWH[3], RBL, RBR, TOPB[3], BOTB[3],
              H_XTICKS, H_XMINOR, H_YTICKS, H_YMINOR, SIO2, "Zr/Nb")
field(pH, H_MCO_X, H_MCO_Y, FILL["MCO"])
field(pH, H_SAT_X, H_SAT_Y, FILL["SAT"])
field(pH, H_FT_X, H_FT_Y, FILL["FT"])
field(pH, H_MTL_X, H_MTL_Y, FILL["MTL"])
field(pH, H_LCT_X, H_LCT_Y, FILL["LCT"], 0.75)
field(pH, H_MTT_X, H_MTT_Y, FILL["MT/TIL"])
field(pH, H_UOT_X, H_UOT_Y, FILL["UOT"])
field(pH, H_CT_X, H_CT_Y, FILL["CT"])
field(pH, H_UAQ_X, H_UAQ_Y, FILL["UAq"])
field(pH, H_LAQ_X, H_LAQ_Y, FILL["LAq"], 0.7)
field(pH, H_LAT_X, H_LAT_Y, FILL["LAT"])
field(pH, H_UAT_X, H_UAT_Y, FILL["UAT"])
pts(pH, "C9", H_P_MCO_X, H_P_MCO_Y, H_P_MCO_EX, H_P_MCO_EY)
pts(pH, "C5", H_P_SAT_X, H_P_SAT_Y, H_P_SAT_EX, H_P_SAT_EY)
pts(pH, "C16", H_P_FT_X, H_P_FT_Y, H_P_FT_EX, H_P_FT_EY)
pts(pH, "C4", H_P_MTL_X, H_P_MTL_Y)
pts(pH, "C2", H_P_MTT_X, H_P_MTT_Y, H_P_MTT_EX, None)
pts(pH, "C8", H_P_UOT_X, H_P_UOT_Y, H_P_UOT_EX, H_P_UOT_EY)
pts(pH, "C3", H_P_CT_X, H_P_CT_Y, None, H_P_CT_EY)
pts(pH, "C10", H_P_UAT_X, H_P_UAT_Y, H_P_UAT_EX, H_P_UAT_EY)
pts(pH, "C7", H_P_LAQ_X, H_P_LAQ_Y, H_P_LAQ_EX, H_P_LAQ_EY)
pts(pH, "C11", H_P_LAT_X, H_P_LAT_Y)
labels(pH, H_LAB, H_LAB_X, H_LAB_Y)
labels(pH, ["MCO"], H_MCO_LAB_X, H_MCO_LAB_Y, size="13px")
panel_box(pH, "H", 75.66, 57.9)

layout = column(row(pA, pE), row(pB, pF), row(pC, pG), row(pD, pH))
open("out.html", "w").write(file_html(layout, INLINE))
